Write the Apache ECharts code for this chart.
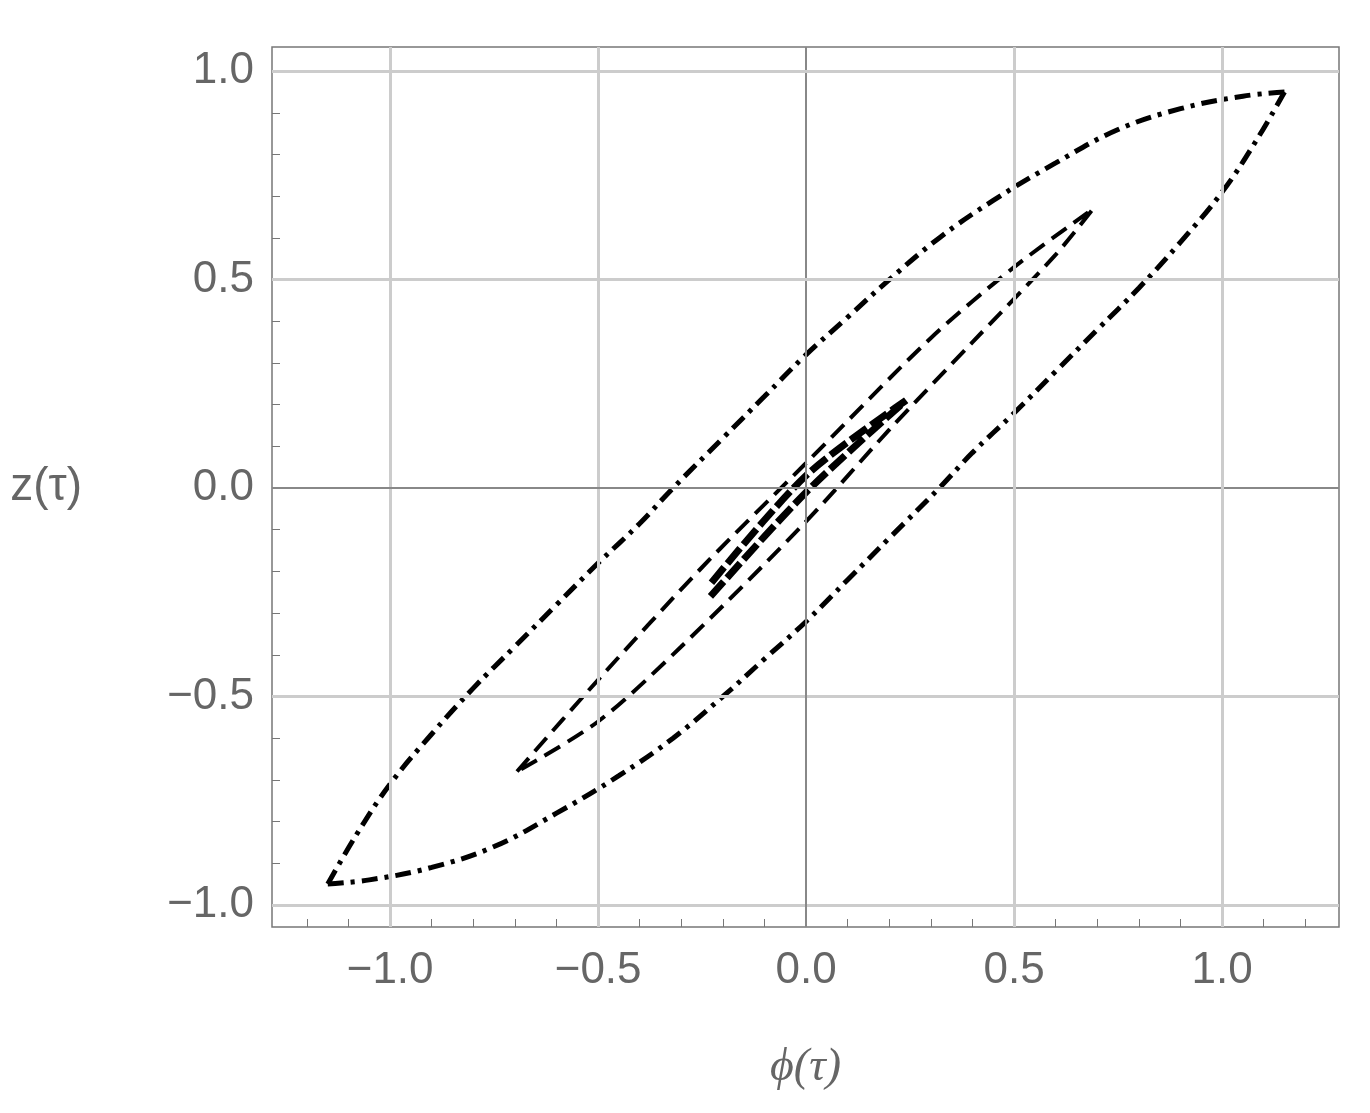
<!DOCTYPE html>
<html><head><meta charset="utf-8">
<script src="https://cdn.jsdelivr.net/npm/echarts@6/dist/echarts.min.js"></script>
<style>html,body{margin:0;padding:0;background:#fff}#c{width:1370px;height:1113px}</style>
</head><body><div id="c"></div>
<script>
const tickValues = [-1.0, -0.5, 0.0, 0.5, 1.0];
const outerUpper = [[-1.15,-0.95],[-1.08,-0.83],[-1.0,-0.71],[-0.9,-0.59],[-0.8,-0.48],[-0.7,-0.38],[-0.6,-0.28],[-0.5,-0.18],[-0.4,-0.085],[-0.32,0.0],[-0.2,0.12],[-0.1,0.22],[0.0,0.32],[0.1,0.41],[0.2,0.5],[0.32,0.6],[0.45,0.69],[0.6,0.78],[0.75,0.86],[0.9,0.91],[1.05,0.94],[1.15,0.95]];
const outerLower = [[1.15,0.95],[1.08,0.83],[1.0,0.71],[0.9,0.59],[0.8,0.48],[0.7,0.38],[0.6,0.28],[0.5,0.18],[0.4,0.085],[0.32,0.0],[0.2,-0.12],[0.1,-0.22],[0.0,-0.32],[-0.1,-0.41],[-0.2,-0.5],[-0.32,-0.6],[-0.45,-0.69],[-0.6,-0.78],[-0.75,-0.86],[-0.9,-0.91],[-1.05,-0.94],[-1.15,-0.95]];
const middleLoop = [[-0.695,-0.68],[-0.5,-0.46],[-0.25,-0.19],[0.0,0.06],[0.3,0.36],[0.5,0.53],[0.69,0.67],
  [0.6,0.56],[0.4,0.35],[0.2,0.14],[0.0,-0.08],[-0.3,-0.38],[-0.5,-0.56],[-0.695,-0.68]];
const innerLoop = [[-0.23,-0.26],[0.0,-0.01],[0.24,0.21],[0.0,0.03],[-0.23,-0.23]];
const minor = [];
for (let i = -12; i <= 12; i++) minor.push(+(i/10).toFixed(1));
const fmt = v => (v < 0 ? '\u2212' : '') + Math.abs(v).toFixed(1);
const ch = echarts.init(document.getElementById('c'));
const gl = (axis, v, c) => ({[axis]: v, lineStyle:{color:c, width: v===0?2:3, type:'solid'}});
const gridMarks = tickValues.flatMap(v => [gl('xAxis', v, v===0?'#888':'#ccc'), gl('yAxis', v, v===0?'#888':'#ccc')]);
const dash = [16,7,4,7];
ch.setOption({
  animation:false,
  grid:{left:272,right:31,top:47,bottom:186,show:true,borderColor:'#777',borderWidth:1.5},
  xAxis:{type:'value',min:-1.284,max:1.281,name:'\u03d5(\u03c4)',nameLocation:'middle',nameGap:118,
    nameTextStyle:{fontSize:46,color:'#666',fontStyle:'italic',fontFamily:'Liberation Serif'},
    axisLine:{show:false,onZero:false},splitLine:{show:false},
    axisTick:{customValues:minor,inside:true,length:8,lineStyle:{color:'#777'}},
    axisLabel:{customValues:tickValues,formatter:fmt,fontSize:44,color:'#666',margin:22,fontFamily:'Liberation Sans'}},
  yAxis:{type:'value',min:-1.053,max:1.058,name:'z(\u03c4)',nameLocation:'middle',nameGap:190,nameRotate:0,
    nameTextStyle:{fontSize:46,color:'#666',fontFamily:'Liberation Sans'},
    axisLine:{show:false,onZero:false},splitLine:{show:false},
    axisTick:{customValues:minor,inside:true,length:8,lineStyle:{color:'#777'}},
    axisLabel:{customValues:tickValues,formatter:fmt,fontSize:44,color:'#666',margin:18,fontFamily:'Liberation Sans'}},
  series:[
    {type:'line',data:[],markLine:{silent:true,symbol:'none',label:{show:false},data:gridMarks}},
    {type:'line',data:outerUpper,smooth:0.4,symbol:'none',lineStyle:{color:'#000',width:5,type:dash}},
    {type:'line',data:outerLower,smooth:0.4,symbol:'none',lineStyle:{color:'#000',width:5,type:dash}},
    {type:'line',data:middleLoop,smooth:0.3,symbol:'none',lineStyle:{color:'#000',width:4,type:[18,9]}},
    {type:'line',data:innerLoop,smooth:0.3,symbol:'none',lineStyle:{color:'#000',width:7,type:[20,5]}}
  ]
});
</script></body></html>
